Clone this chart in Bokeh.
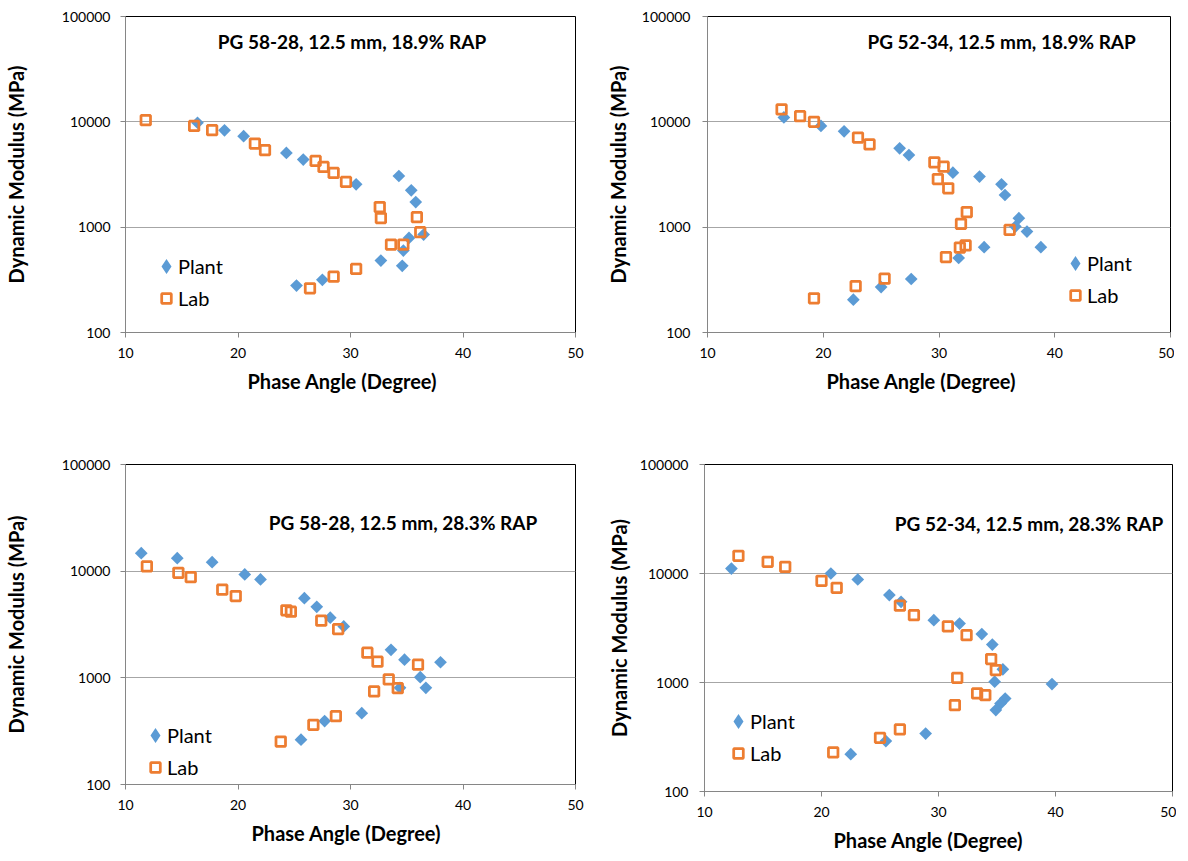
import numpy as np
from bokeh.plotting import figure
from bokeh.models import (Range1d, FixedTicker, PrintfTickFormatter, Legend,
                          LegendItem, Label, Title)
from bokeh.layouts import column, row
from bokeh.embed import file_html
from bokeh.resources import INLINE

# ---------------- data ----------------
titles = ["PG 58-28, 12.5 mm, 18.9% RAP", "PG 52-34, 12.5 mm, 18.9% RAP",
          "PG 58-28, 12.5 mm, 28.3% RAP", "PG 52-34, 12.5 mm, 28.3% RAP"]
x_label = "Phase Angle (Degree)"
y_label = "Dynamic Modulus (MPa)"
series_names = ["Plant", "Lab"]
x_ticks = [10, 20, 30, 40, 50]
y_ticks = [100, 1000, 10000, 100000]

p1_plant_x = [16.4, 18.8, 20.5, 24.3, 25.8, 30.5, 34.3, 35.4, 35.8, 36.5, 35.2, 34.7, 34.6, 32.7, 27.5, 25.2]
p1_plant_y = [9800, 8300, 7300, 5070, 4380, 2550, 3060, 2240, 1730, 850, 790, 600, 430, 482, 316, 279]
p1_lab_x = [11.8, 16.1, 17.7, 21.5, 22.4, 26.9, 27.6, 28.5, 29.6, 32.6, 32.7, 35.9, 36.2, 33.6, 34.7, 30.5, 28.5, 26.4]
p1_lab_y = [10380, 9150, 8340, 6220, 5380, 4250, 3730, 3270, 2690, 1550, 1220, 1245, 896, 684, 684, 401, 339, 263]

p2_plant_x = [16.6, 19.8, 21.8, 26.6, 27.4, 31.2, 33.5, 35.4, 35.7, 36.9, 36.6, 37.6, 38.8, 33.9, 31.7, 27.6, 25.0, 22.6]
p2_plant_y = [11000, 9150, 8120, 5600, 4840, 3290, 3020, 2550, 2020, 1216, 1013, 908, 646, 646, 510, 322, 270, 205]
p2_lab_x = [16.4, 18.0, 19.2, 23.0, 24.0, 29.6, 30.4, 29.9, 30.8, 32.4, 31.9, 36.1, 32.3, 31.8, 30.6, 25.3, 22.8, 19.2]
p2_lab_y = [13100, 11300, 10000, 7100, 6100, 4130, 3750, 2860, 2340, 1390, 1075, 942, 670, 641, 520, 324, 275, 211]

p3_plant_x = [11.4, 14.6, 17.7, 20.6, 22.0, 25.9, 27.0, 28.2, 29.4, 33.6, 34.8, 38.0, 36.2, 36.7, 34.4, 31.0, 27.7, 25.6]
p3_plant_y = [14750, 13240, 12140, 9310, 8360, 5580, 4630, 3660, 3030, 1830, 1480, 1400, 1013, 807, 807, 466, 393, 263]
p3_lab_x = [11.9, 14.7, 15.8, 18.6, 19.8, 24.3, 24.7, 27.4, 28.9, 31.5, 32.4, 36.0, 33.4, 34.2, 32.1, 28.7, 26.7, 23.8]
p3_lab_y = [11070, 9660, 8790, 6700, 5840, 4290, 4170, 3430, 2860, 1720, 1416, 1327, 966, 800, 746, 437, 363, 253]

p4_plant_x = [12.3, 20.8, 23.1, 25.8, 26.8, 29.6, 31.8, 33.7, 34.6, 35.5, 34.8, 39.7, 35.7, 35.3, 34.9, 28.9, 25.5, 22.5]
p4_plant_y = [11110, 10000, 8810, 6340, 5500, 3730, 3470, 2780, 2230, 1320, 1017, 968, 713, 641, 558, 340, 290, 220]
p4_lab_x = [12.9, 15.4, 16.9, 20.0, 21.3, 26.7, 27.9, 30.8, 32.4, 34.5, 34.9, 31.6, 33.3, 34.0, 31.4, 26.7, 25.0, 21.0]
p4_lab_y = [14520, 12800, 11520, 8570, 7390, 5060, 4150, 3270, 2720, 1640, 1300, 1104, 794, 766, 620, 371, 311, 228]

# ---------------- styling ----------------
FONT = "Lato"
BLUE = "#5B9BD5"
ORANGE = "#ED7D31"
AXIS_GRAY = "#868686"
GRID_GRAY = "#A6A6A6"


def make_panel(px, py, lx, ly, title, layout):
    (bl, br, bt, bb, fw, fh, ylabel_standoff, ytick_standoff,
     xtitle_offset, title_x, title_logy, leg_loc) = layout
    p = figure(frame_width=fw, frame_height=fh, y_axis_type="log",
               x_range=Range1d(10, 50), y_range=Range1d(100, 100000),
               output_backend="svg", toolbar_location=None,
               min_border_left=bl, min_border_right=br,
               min_border_top=bt, min_border_bottom=bb)
    p.background_fill_color = "white"
    p.border_fill_color = "white"
    p.outline_line_color = "black"
    p.outline_line_width = 1

    p.xgrid.visible = False
    p.ygrid.ticker = FixedTicker(ticks=y_ticks)
    p.ygrid.grid_line_color = GRID_GRAY
    p.ygrid.grid_line_width = 1

    p.xaxis.ticker = FixedTicker(ticks=x_ticks)
    p.yaxis.ticker = FixedTicker(ticks=y_ticks)
    p.yaxis.formatter = PrintfTickFormatter(format="%d")
    for ax in (p.xaxis, p.yaxis):
        ax.axis_line_color = AXIS_GRAY
        ax.major_tick_line_color = AXIS_GRAY
        ax.minor_tick_line_color = None
        ax.major_tick_in = 0
        ax.major_tick_out = 5
        ax.major_label_text_font = FONT
        ax.major_label_text_font_size = "14px"
        ax.major_label_text_color = "black"
    p.xaxis.major_label_standoff = 10
    p.yaxis.major_label_standoff = ytick_standoff

    # y axis title
    p.yaxis.axis_label = y_label
    p.yaxis.axis_label_standoff = ylabel_standoff
    p.yaxis.axis_label_text_font = FONT
    p.yaxis.axis_label_text_font_size = "20px"
    p.yaxis.axis_label_text_font_style = "bold"
    p.yaxis.axis_label_text_color = "black"
    # x axis title (a Title, so that it can sit off-centre like the original)
    p.add_layout(Title(text=x_label, align="left", offset=xtitle_offset,
                       standoff=12, text_font=FONT, text_font_size="20px",
                       text_font_style="bold", text_color="black"), "below")

    p.scatter(px, py, marker="square", size=9, angle=np.pi / 4,
              fill_color=BLUE, line_color=None)
    r_lab = p.scatter(lx, ly, marker="square", size=9.5, fill_alpha=0,
                      line_color=ORANGE, line_width=2.75)
    # legend key for the Plant series (legend keys cannot be rotated);
    # its single NaN point draws nothing in the plot area
    r_plant_key = p.scatter(x=np.array([np.nan]), y=np.array([np.nan]),
                            marker="diamond", size=9, fill_color=BLUE,
                            line_color=BLUE, line_width=3, line_join="miter")

    legend = Legend(items=[LegendItem(label=series_names[0], renderers=[r_plant_key]),
                           LegendItem(label=series_names[1], renderers=[r_lab])],
                    location=leg_loc, margin=0, padding=0, spacing=8,
                    glyph_width=24, glyph_height=24, label_height=24,
                    label_standoff=0, label_text_font=FONT,
                    label_text_font_size="20px", label_text_color="black",
                    border_line_alpha=0, background_fill_alpha=0)
    p.add_layout(legend)

    p.add_layout(Label(x=title_x, y=10 ** title_logy, text=title,
                       text_font=FONT, text_font_size="19px",
                       text_font_style="bold", text_align="center",
                       text_baseline="middle", text_color="black"))
    return p


# (border left, right, top, bottom, frame w, frame h, y-label standoff,
#  y tick-label standoff, x-title offset, title x, title log-y,
#  legend location)
lay1 = (125, 23, 16, 116, 450, 316, 31, 10, 122, 30.13, 4.76, (29, 22))
lay2 = (109, 4, 16, 116, 463, 316, 9, 12, 119, 35.41, 4.76, (356, 25))
lay3 = (125, 23, 16, 69, 450, 320, 31, 10, 126, 34.67, 4.456, (18, 5))
lay4 = (106, 4, 15, 69, 468, 327, 6, 11, 129, 37.73, 4.459, (22, 26))

p1 = make_panel(p1_plant_x, p1_plant_y, p1_lab_x, p1_lab_y, titles[0], lay1)
p2 = make_panel(p2_plant_x, p2_plant_y, p2_lab_x, p2_lab_y, titles[1], lay2)
p3 = make_panel(p3_plant_x, p3_plant_y, p3_lab_x, p3_lab_y, titles[2], lay3)
p4 = make_panel(p4_plant_x, p4_plant_y, p4_lab_x, p4_lab_y, titles[3], lay4)

page = column(row(p1, p2), row(p3, p4))
open("out.html", "w").write(file_html(page, INLINE))
